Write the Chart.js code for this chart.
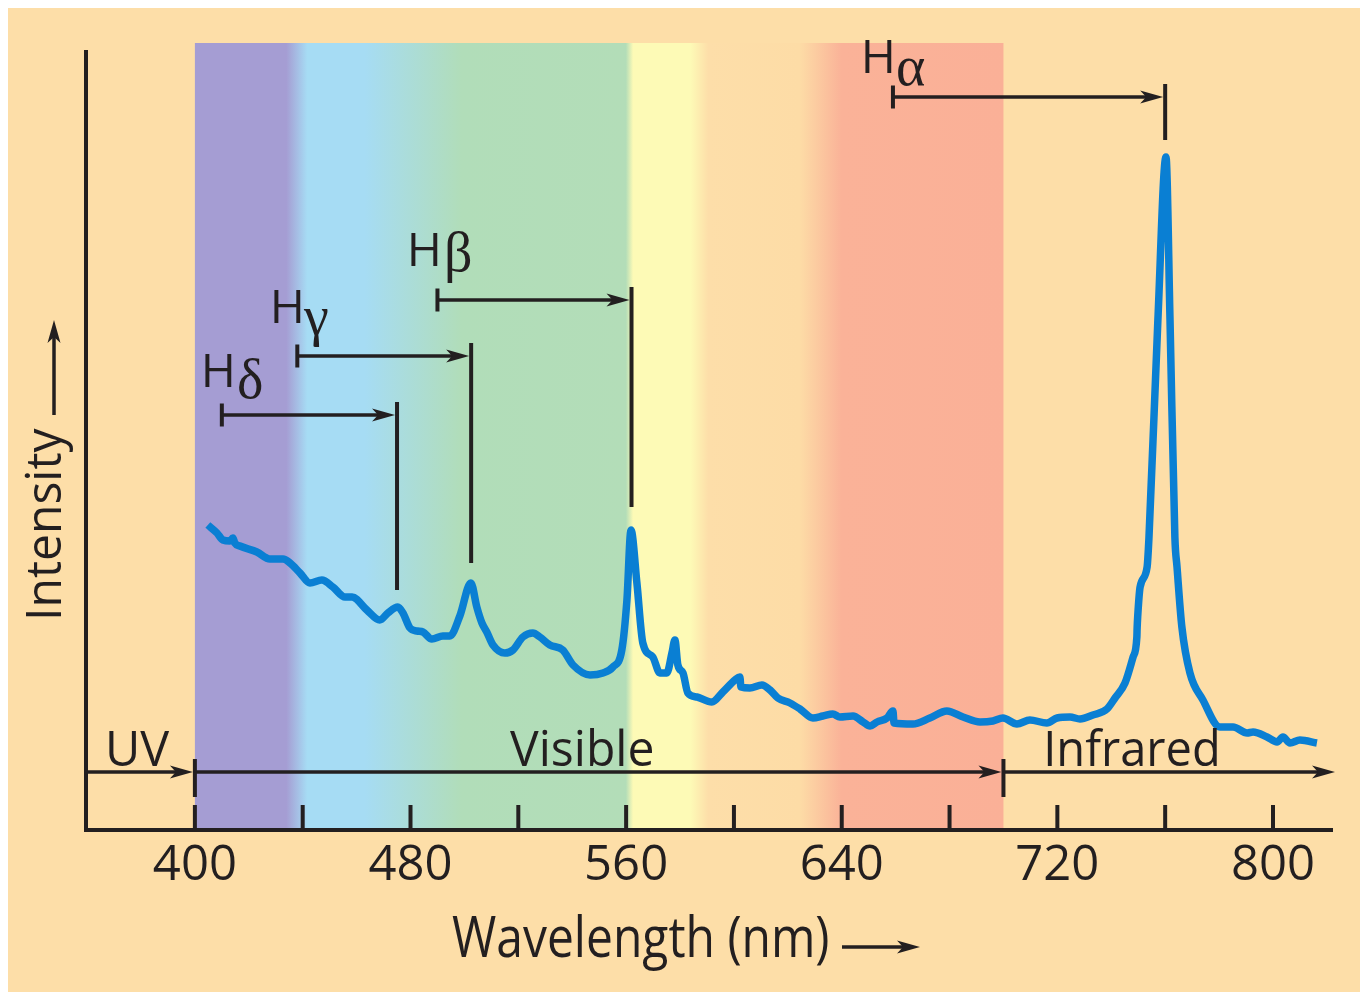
<!DOCTYPE html>
<html><head><meta charset="utf-8">
<script src="https://cdn.jsdelivr.net/npm/chart.js@4/dist/chart.umd.min.js"></script>
<style>html,body{margin:0;padding:0;background:#fff}canvas{display:block}</style>
</head><body>
<canvas id="c" width="1368" height="1000" style="width:1368px;height:1000px"></canvas>
<script>
// ---------- DATA ----------
const wavelengths = [404.8,408.2,410.4,413.0,414.1,414.8,416.7,423.0,427.8,432.7,
 435.3,439.0,442.7,447.1,451.2,455.7,458.3,463.8,468.6,471.6,
 475.3,477.2,479.8,482.4,484.6,487.9,492.0,494.6,498.3,502.4,
 504.6,506.5,508.3,510.6,515.0,518.0,521.7,525.4,528.0,531.7,
 536.5,540.3,546.6,551.4,555.1,558.4,560.3,561.8,564.0,566.2,
 569.9,572.5,575.1,577.0,578.1,579.2,581.1,582.9,586.3,591.8,
 595.9,600.4,602.2,602.6,605.9,610.4,613.4,616.3,620.8,624.5,
 629.3,633.0,636.7,639.3,644.2,647.9,650.5,653.1,656.8,659.0,
 659.4,666.4,672.7,679.0,685.0,691.3,696.1,699.8,705.0,709.8,
 716.1,719.9,724.7,728.4,733.2,738.4,741.4,745.1,748.1,749.5,
 749.6,749.8,750.7,753.3,754.0,757.3,760.3,761.8,763.6,764.4,
 766.2,769.2,774.0,780.3,785.2,790.4,792.6,797.8,801.5,803.7,
 806.3,810.0,816.3];
const intensity = [305,297,290,289,292,287,284,278,271,271,
 267,257,247,250,243,233,233,220,210,217,
 223,217,202,199,198,191,194,194,214,247,
 223,207,198,185,177,180,193,197,193,185,
 180,165,155,157,163,180,230,300,247,187,
 173,157,157,177,190,165,157,137,133,128,
 138,150,153,143,142,145,140,132,127,121,
 112,114,116,113,114,108,104,108,112,119,
 107,106,112,119,113,108,109,112,106,110,
 107,112,113,111,115,121,132,147,173,193,
 202,213,243,263,293,510,673,510,293,263,
 203,157,130,103,103,97,98,93,88,93,
 87,90,87];
const majorTicks = [400,480,560,640,720,800];
const minorTicks = [440,520,600,680,760];
const visibleRange = [400,700];
const regionLabels = ['UV','Visible','Infrared'];
const lineLetters = ['α','β','γ','δ'];
const restWavelengths = [659,490,438,410];
const observedWavelengths = [760,562,502.5,475];
const arrowLevels = [733,530,474,415];
const markerBottoms = [690,323,267,240];
const xTitle = 'Wavelength (nm)';
const yTitle = 'Intensity';

// ---------- STYLE / LAYOUT ----------
const INK = '#231f20';
const PEACH = '#FDDEA8';
const LINE = '#0A7FD3';
const SANS = '"Open Sans", "Noto Sans", sans-serif';
const SERIF = '"Liberation Serif", "DejaVu Serif", serif';
const bandStops = [[0,'#A59DD3'],[0.113,'#A59DD3'],[0.139,'#A6DCF4'],[0.21,'#A6DCF4'],
 [0.33,'#B1DDB9'],[0.533,'#B3DDB8'],[0.542,'#FDFAB6'],[0.613,'#FDFAB6'],
 [0.635,'#FDDEA9'],[0.748,'#FDDCA6'],[0.80,'#FAB298'],[1,'#FAB097']];
// label placement (px) for H labels: H left, H baseline, greek left, greek baseline
const hLabelPos = [[865,73,897,85],[411,266,445,271],[274,323,305,335],[205,387,238,398]];
// region label placement: ink left, ink width (px)
const regionLabelPos = [[109,61],[510,142],[1047,170]];

function fitText(ctx, txt, left, base, font, width){
  ctx.font = font;
  const m = ctx.measureText(txt);
  const w = m.actualBoundingBoxLeft + m.actualBoundingBoxRight;
  ctx.save();
  ctx.translate(left, base);
  ctx.scale(width / w, 1);
  ctx.textAlign = 'left'; ctx.textBaseline = 'alphabetic';
  ctx.fillText(txt, m.actualBoundingBoxLeft, 0);
  ctx.restore();
}
function hArrow(ctx, xs, xt, yy, lw){
  ctx.lineWidth = lw || 3.5; ctx.lineCap = 'butt';
  ctx.beginPath(); ctx.moveTo(xs, yy); ctx.lineTo(xt - 12, yy); ctx.stroke();
  ctx.beginPath(); ctx.moveTo(xt, yy); ctx.lineTo(xt - 23, yy - 6.5);
  ctx.lineTo(xt - 17, yy); ctx.lineTo(xt - 23, yy + 6.5); ctx.closePath(); ctx.fill();
}
function vLine(ctx, xx, y1, y2, lw){
  ctx.lineWidth = lw || 4; ctx.lineCap = 'butt';
  ctx.beginPath(); ctx.moveTo(xx, y1); ctx.lineTo(xx, y2); ctx.stroke();
}

const decor = {
  id: 'decor',
  beforeDraw(chart){
    const {ctx, chartArea: ca} = chart;
    const x = chart.scales.x;
    ctx.save();
    ctx.fillStyle = '#fff'; ctx.fillRect(0, 0, chart.width, chart.height);
    ctx.fillStyle = PEACH; ctx.fillRect(8, 8, 1352, 984);
    const x0 = x.getPixelForValue(visibleRange[0]), x1 = x.getPixelForValue(visibleRange[1]);
    const g = ctx.createLinearGradient(x0, 0, x1, 0);
    bandStops.forEach(s => g.addColorStop(s[0], s[1]));
    ctx.fillStyle = g;
    ctx.fillRect(x0, ca.top, x1 - x0, ca.bottom - ca.top);
    ctx.restore();
  },
  afterDraw(chart){
    const {ctx, chartArea: ca} = chart;
    const x = chart.scales.x, y = chart.scales.y;
    ctx.save();
    ctx.strokeStyle = INK; ctx.fillStyle = INK;
    // y axis line
    const xa = x.getPixelForValue(x.min);
    vLine(ctx, xa, 50, ca.bottom + 2, 4);
    // upward tick marks
    majorTicks.concat(minorTicks).forEach(v => {
      vLine(ctx, x.getPixelForValue(v), ca.bottom - 25, ca.bottom, 4);
    });
    // region arrows
    const ry = 772;
    const b0 = x.getPixelForValue(visibleRange[0]), b1 = x.getPixelForValue(visibleRange[1]);
    hArrow(ctx, xa, b0 - 2, ry, 3.5);
    hArrow(ctx, b0, b1 - 2, ry, 3.5);
    hArrow(ctx, b1, 1335, ry, 3.5);
    vLine(ctx, b0, 759, 797, 4);
    vLine(ctx, b1, 759, 797, 4);
    regionLabels.forEach((t, i) => {
      fitText(ctx, t, regionLabelPos[i][0], 766, '49px ' + SANS, regionLabelPos[i][1]);
    });
    // hydrogen line annotations
    lineLetters.forEach((L, i) => {
      const xs = x.getPixelForValue(restWavelengths[i]);
      const xe = x.getPixelForValue(observedWavelengths[i]);
      const ya = y.getPixelForValue(arrowLevels[i]);
      const yb = y.getPixelForValue(markerBottoms[i]);
      vLine(ctx, xs, ya - 11.5, ya + 11.5, 4);
      vLine(ctx, xe, ya - 13, yb, 4);
      hArrow(ctx, xs, xe - 2, ya, 3.5);
      const p = hLabelPos[i];
      ctx.textAlign = 'left'; ctx.textBaseline = 'alphabetic';
      fitText(ctx, 'H', p[0], p[1], '46px ' + SANS, 27);
      ctx.font = '56px ' + SERIF;
      ctx.fillText(L, p[2] - 1, p[3]);
    });
    // x title + arrow
    fitText(ctx, xTitle, 452, 957, '57px ' + SANS, 376);
    hArrow(ctx, 842, 920, 947, 3.5);
    // y title (rotated) + arrow
    ctx.save();
    ctx.translate(61, 617);
    ctx.rotate(-Math.PI / 2);
    fitText(ctx, yTitle, 0, 0, '49px ' + SANS, 189);
    ctx.restore();
    ctx.lineWidth = 3.5;
    ctx.beginPath(); ctx.moveTo(54, 415); ctx.lineTo(54, 332); ctx.stroke();
    ctx.beginPath(); ctx.moveTo(54, 320); ctx.lineTo(47.5, 343); ctx.lineTo(54, 337); ctx.lineTo(60.5, 343); ctx.closePath(); ctx.fill();
    ctx.restore();
  }
};

new Chart(document.getElementById('c'), {
  type: 'line',
  data: {
    datasets: [{
      data: wavelengths.map((w, i) => ({x: w, y: intensity[i]})),
      borderColor: LINE, borderWidth: 7.5, pointRadius: 0,
      cubicInterpolationMode: 'monotone', tension: 0.4,
      borderJoinStyle: 'round', borderCapStyle: 'butt', fill: false
    }]
  },
  options: {
    responsive: false, animation: false, devicePixelRatio: 1, events: [],
    layout: {padding: {left: 86, right: 36, top: 43, bottom: 0}},
    plugins: {legend: {display: false}, tooltip: {enabled: false}},
    scales: {
      x: {
        type: 'linear', min: 359.6, max: 821.9, position: 'bottom',
        afterFit: s => { s.height = 170; },
        afterBuildTicks: s => { s.ticks = majorTicks.map(v => ({value: v})); },
        grid: {display: false, drawTicks: false},
        border: {display: true, color: INK, width: 4},
        ticks: {font: {family: SANS, size: 49}, color: INK, padding: 7, maxRotation: 0, autoSkip: false}
      },
      y: {type: 'linear', min: 0, max: 787, display: false}
    }
  },
  plugins: [decor]
});
</script>
</body></html>
